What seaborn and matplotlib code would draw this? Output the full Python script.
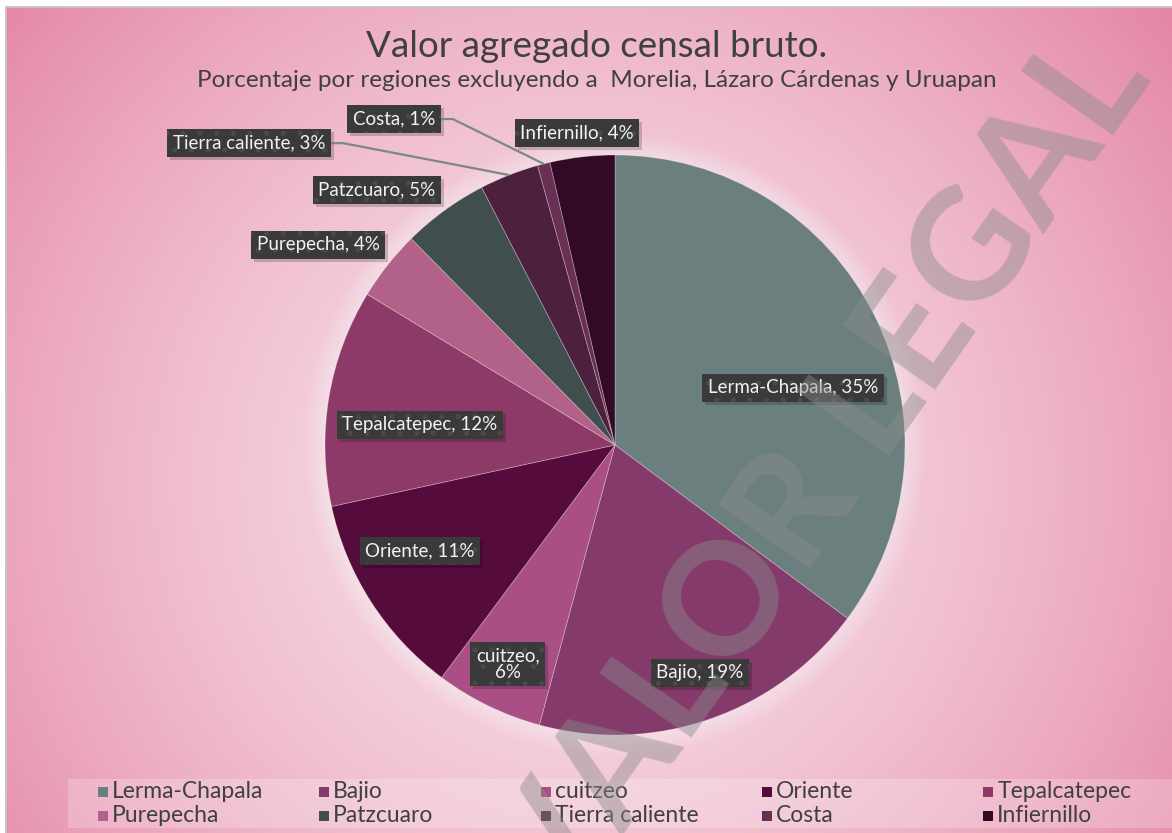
import numpy as np
import matplotlib
matplotlib.use('Agg')
import matplotlib.pyplot as plt
import matplotlib.transforms as mtransforms
from matplotlib.patches import Rectangle, Circle
import seaborn as sns

# Datos
regiones = ['Lerma-Chapala', 'Bajio', 'cuitzeo', 'Oriente', 'Tepalcatepec',
            'Purepecha', 'Patzcuaro', 'Tierra caliente', 'Costa', 'Infiernillo']
porcentajes = [35.2, 19.0, 6.0, 11.4, 12.1, 3.9, 4.8, 3.3, 0.7, 3.6]
colores = ['#6b7f7e', '#843a6a', '#a94f85', '#550c3c', '#8e3a68',
           '#b26288', '#404e4e', '#4d203d', '#6a2f54', '#330a24']

titulo = 'Valor agregado censal bruto.'
subtitulo = 'Porcentaje por regiones excluyendo a  Morelia, Lázaro Cárdenas y Uruapan'
marca = 'VALOR LEGAL'

# posicion de cada etiqueta relativa al centro, en radios
pos_etiquetas = [(0.614, 0.197), (0.293, -0.786), (-0.369, -0.755), (-0.672, -0.366),
                 (-0.672, 0.069), (-1.024, 0.690), (-0.821, 0.879), (-1.262, 1.041),
                 (-0.762, 1.124), (-0.131, 1.076)]
con_linea = ['Tierra caliente', 'Costa']
partir = ['cuitzeo']

W, H = 1172, 833
sns.set_style('white')
plt.rcParams['font.family'] = ['Lato', 'DejaVu Sans']
plt.rcParams['hatch.linewidth'] = 1.2

fig = plt.figure(figsize=(W / 100, H / 100), dpi=100)
fig.patch.set_facecolor('white')
ax = fig.add_axes([0, 0, 1, 1])

# Fondo degradado radial
xx, yy = np.meshgrid(np.linspace(6, W, 400), np.linspace(0, H - 7, 300))
d = np.hypot(xx - 580, yy - (H - 480))
t = np.clip(d / 760, 0, 1) ** 1.5
claro = np.array([248, 224, 233]) / 255
oscuro = np.array([228, 134, 165]) / 255
img = claro + (oscuro - claro) * t[..., None]
ax.imshow(img, extent=(6, W, 0, H - 7), origin='lower', zorder=0, aspect='auto')
ax.add_patch(Rectangle((5.5, -2), W, H - 5, fill=False, ec='#c4c4c4', lw=1.3, zorder=1))

# Pastel
cx, cy, R = 615, H - 445, 290
for k in range(8):
    ax.add_patch(Circle((cx, cy), R + 2 + k * 2.5, fc='white', ec='none', alpha=0.06, zorder=2))
wedges, _ = ax.pie(porcentajes, colors=colores, startangle=90, counterclock=False,
                   center=(cx, cy), radius=R,
                   wedgeprops=dict(edgecolor=(1, 1, 1, 0.3), linewidth=0.6, zorder=3))

# Etiquetas
sombra = mtransforms.offset_copy(ax.transData, fig=fig, x=3, y=-3, units='dots')
cajas = []
for nombre, pct, (px, py) in zip(regiones, porcentajes, pos_etiquetas):
    sep = ',\n' if nombre in partir else ', '
    txt = f'{nombre}{sep}{pct:.0f}%'
    x, y = cx + px * R, cy + py * R
    ax.text(x, y, txt, transform=sombra, ha='center', va='center', fontsize=13.5,
            color='none', linespacing=0.95,
            bbox=dict(boxstyle='square,pad=0.3', fc='black', ec='none', alpha=0.18), zorder=4)
    tx = ax.text(x, y, txt, ha='center', va='center', fontsize=13.5, color='#f2f2f2',
                 linespacing=0.95,
                 bbox=dict(boxstyle='square,pad=0.3', fc='#3a3a3a', ec='#4a4a4a', lw=0, hatch='.'),
                 zorder=5)
    cajas.append(tx)

ax.set_xlim(0, W)
ax.set_ylim(0, H)
ax.set_aspect('auto')
ax.axis('off')

fig.canvas.draw()
inv = ax.transData.inverted()
for i, nombre in enumerate(regiones):
    if nombre not in con_linea:
        continue
    bb = cajas[i].get_bbox_patch().get_window_extent()
    x0, y0 = inv.transform((bb.x1, (bb.y0 + bb.y1) / 2))
    w = wedges[i]
    ang = np.deg2rad((w.theta1 + w.theta2) / 2)
    ex, ey = cx + R * np.cos(ang), cy + R * np.sin(ang)
    ax.plot([x0, x0 + 12, ex], [y0, y0, ey], color='#7d8787', lw=1.6, zorder=4,
            solid_capstyle='butt')

# Titulo
ax.text(597, H - 46, titulo, ha='center', va='center', fontsize=26.5, color='#404040', zorder=6)
ax.text(597, H - 80, subtitulo, ha='center', va='center', fontsize=17.5, color='#404040', zorder=6)

# Leyenda
ax.add_patch(Rectangle((68, H - 828), W - 68, 49, fc='white', ec='none', alpha=0.22, zorder=2))
for i, (nombre, c) in enumerate(zip(regiones, colores)):
    col, fila = i % 5, i // 5
    lx = 103 + col * 221.3
    ly = H - (792 + fila * 24)
    ax.scatter([lx], [ly], marker='s', s=60, color=c, zorder=6, linewidths=0)
    ax.text(lx + 9, ly, nombre, ha='left', va='center', fontsize=16.5, color='#404040', zorder=6)

# Marca de agua
ax.text(822, H - 476, marca, rotation=55, rotation_mode='anchor', ha='center', va='center',
        fontsize=112, fontweight='bold', color=(0.55, 0.55, 0.55), alpha=0.45, zorder=10)

ax.set_xlim(0, W)
ax.set_ylim(0, H)
fig.savefig('out.png', dpi=100, facecolor=fig.get_facecolor())
